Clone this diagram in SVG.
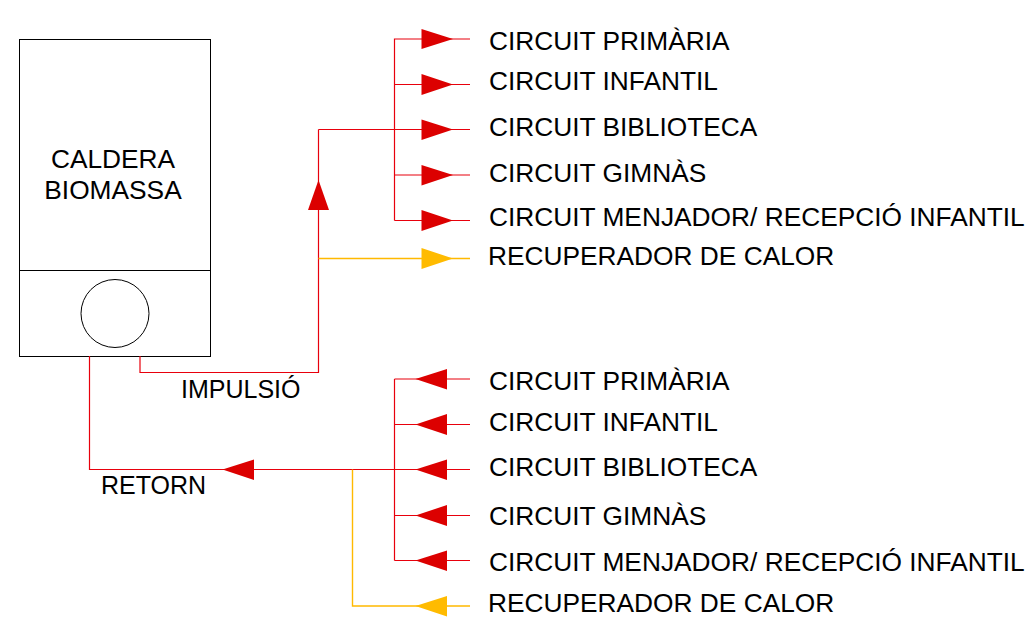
<svg xmlns="http://www.w3.org/2000/svg" width="1030" height="624" viewBox="0 0 1030 624">
<style>
text{font-family:"Liberation Sans",Arial,sans-serif;fill:#000;font-size:26.3px}
text.s{font-size:25px}
.k{fill:none;stroke:#000;stroke-width:1}
.r{fill:none;stroke:#e8000c;stroke-width:1.2}
.y{fill:none;stroke:#ffb900;stroke-width:1.4}
.ra{fill:#dc0000}.ya{fill:#ffbb00}
</style>
<rect width="1030" height="624" fill="#fff"/>
<g id="caldera">
<rect class="k" x="19.500" y="39.500" width="191" height="317"/>
<line class="k" x1="19.500" y1="270.500" x2="210.500" y2="270.500"/>
<circle class="k" cx="115" cy="313.500" r="34"/>
<text x="113" y="168" text-anchor="middle">CALDERA</text>
<text x="113" y="199" text-anchor="middle">BIOMASSA</text>
</g>
<g id="connectors">
<path class="r" d="M140 356V372.500H318.500V129.500M318.500 129.500H470M394.500 220.500V39H470M394.500 84.500H470M394.500 175H470M394.500 220.500H470"/>
<path class="y" d="M318.500 258.500H470"/>
<path class="r" d="M89.500 356V469.500H470M394.500 379V560.500M394.500 379H470M394.500 424.500H470M394.500 515.500H470M394.500 560.500H470"/>
<path class="y" d="M352.500 469.500V606H470"/>
<polygon class="ra" points="421.500,29 453,39 421.500,49"/>
<polygon class="ra" points="421.500,74 453,84.500 421.500,95"/>
<polygon class="ra" points="421.500,119.500 453,129.500 421.500,140"/>
<polygon class="ra" points="421.500,165 453,175 421.500,185.500"/>
<polygon class="ra" points="421.500,210 453,220.500 421.500,231"/>
<polygon class="ya" points="421.500,248 453,258.500 421.500,269"/>
<polygon class="ra" points="318.500,180 329,210 308,210"/>
<polygon class="ra" points="447,369 415.500,379 447,389.500"/>
<polygon class="ra" points="447,414 415.500,424.500 447,435"/>
<polygon class="ra" points="447,459.500 415.500,469.500 447,480"/>
<polygon class="ra" points="447,505 415.500,515.500 447,526"/>
<polygon class="ra" points="447,550.500 415.500,560.500 447,571"/>
<polygon class="ya" points="447,596 415.500,606 447,616.500"/>
<polygon class="ra" points="254,459.500 222.500,469.500 254,480"/>
</g>
<g id="labels">
<text class="s" x="181" y="398">IMPULSIÓ</text>
<text class="s" x="101" y="494">RETORN</text>
</g>
<g id="impulsio">
<text x="489" y="50">CIRCUIT PRIMÀRIA</text>
<text x="489" y="90">CIRCUIT INFANTIL</text>
<text x="489" y="136">CIRCUIT BIBLIOTECA</text>
<text x="489" y="182">CIRCUIT GIMNÀS</text>
<text x="489" y="226">CIRCUIT MENJADOR/ RECEPCIÓ INFANTIL</text>
<text x="488" y="265">RECUPERADOR DE CALOR</text>
</g>
<g id="retorn">
<text x="489" y="390">CIRCUIT PRIMÀRIA</text>
<text x="489" y="431">CIRCUIT INFANTIL</text>
<text x="489" y="476">CIRCUIT BIBLIOTECA</text>
<text x="489" y="525">CIRCUIT GIMNÀS</text>
<text x="489" y="571">CIRCUIT MENJADOR/ RECEPCIÓ INFANTIL</text>
<text x="488" y="612">RECUPERADOR DE CALOR</text>
</g>
</svg>
